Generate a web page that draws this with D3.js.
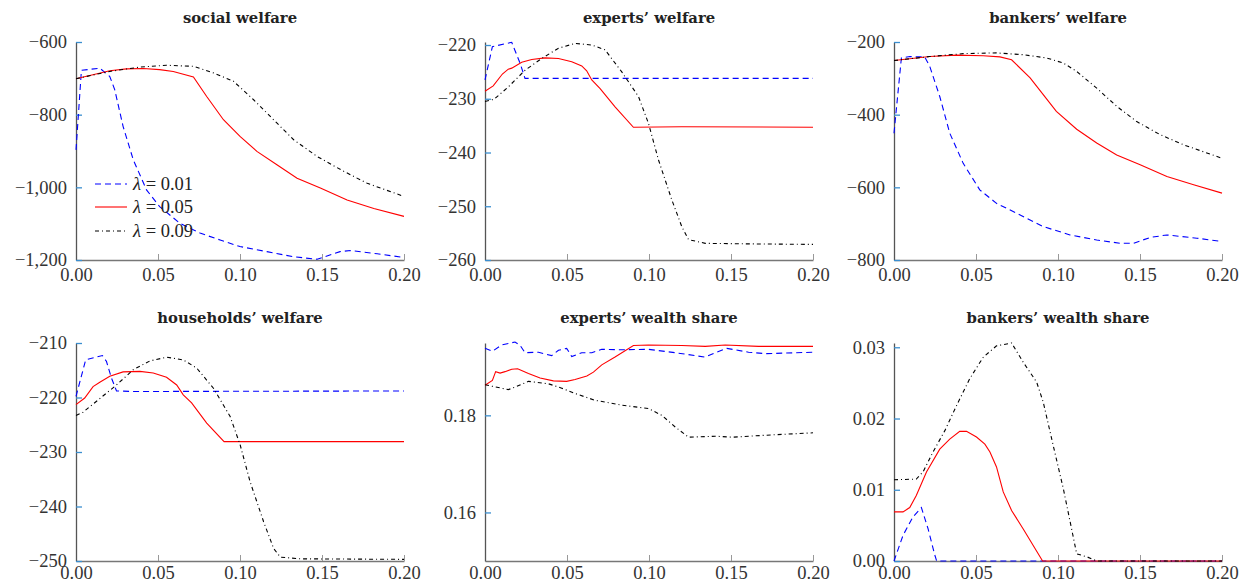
<!DOCTYPE html>
<html><head><meta charset="utf-8">
<script src="https://cdn.jsdelivr.net/npm/d3@7"></script>
<style>body{margin:0;background:#fff}svg{display:block}
.tk{font-family:"Liberation Serif","DejaVu Serif",serif;}
</style>
</head><body>
<svg id="chart" width="1245" height="583"></svg>
<script>
// ---- data ----
const lambdaLabels = ["0.01", "0.05", "0.09"];
const xTicks = [0, 0.05, 0.10, 0.15, 0.20];
const panelTitles = ["social welfare", "experts\u2019 welfare", "bankers\u2019 welfare",
  "households\u2019 welfare", "experts\u2019 wealth share", "bankers\u2019 wealth share"];
const yDomains = [[-1200, -600], [-260, -219.44], [-800, -200], [-250, -210], [0.15, 0.1949], [0, 0.0306]];
const yTickValues = [[-1200, -1000, -800, -600], [-260, -250, -240, -230, -220], [-800, -600, -400, -200],
  [-250, -240, -230, -220, -210], [0.16, 0.18], [0, 0.01, 0.02, 0.03]];

const socialL01 = [[0,-897],[0.0033,-678],[0.0145,-672],[0.0206,-695],[0.0236,-731],[0.0287,-832],[0.0349,-924],[0.043,-1007],[0.051,-1053],[0.0634,-1099],[0.0756,-1126],[0.0879,-1145],[0.1,-1163],[0.1164,-1177],[0.1327,-1191],[0.147,-1198],[0.161,-1177],[0.1674,-1174],[0.1837,-1183],[0.2,-1193]];
const socialL05 = [[0,-701],[0.0206,-679],[0.0308,-674],[0.041,-673],[0.051,-676],[0.0593,-681],[0.0716,-696],[0.0797,-750],[0.0899,-814],[0.1,-860],[0.1103,-901],[0.1225,-938],[0.1348,-975],[0.149,-1002],[0.1653,-1035],[0.1816,-1058],[0.2,-1080]];
const socialL09 = [[0,-701],[0.0206,-681],[0.039,-669],[0.0552,-664],[0.0716,-667],[0.0838,-685],[0.096,-708],[0.1083,-759],[0.1205,-814],[0.1327,-869],[0.147,-915],[0.1633,-956],[0.1776,-989],[0.2,-1025]];

const expertsL01 = [[0,-226.5],[0.0045,-220.3],[0.0163,-219.5],[0.0214,-223.4],[0.0244,-226.2],[0.2,-226.2]];
const expertsL05 = [[0,-228.6],[0.005,-227.6],[0.0106,-225.4],[0.0142,-224.5],[0.0163,-224.3],[0.0224,-223.2],[0.0285,-222.7],[0.0366,-222.4],[0.0448,-222.5],[0.0529,-223.1],[0.059,-223.9],[0.062,-224.8],[0.0651,-226.5],[0.0702,-228.1],[0.0793,-231.5],[0.0905,-235.3],[0.12,-235.2],[0.2,-235.3]];
const expertsL09 = [[0,-230.5],[0.0055,-230.1],[0.0142,-227.8],[0.0244,-224.7],[0.0346,-222.5],[0.0448,-220.6],[0.0549,-219.7],[0.0651,-220],[0.0732,-220.9],[0.0834,-225],[0.0936,-229.6],[0.0997,-234.6],[0.1058,-241.4],[0.1139,-248.8],[0.12,-253.8],[0.1241,-256.2],[0.1343,-256.9],[0.1607,-257],[0.2,-257.1]];

const bankersL01 = [[0,-451],[0.0045,-244],[0.0096,-240],[0.0187,-241],[0.0218,-267],[0.0279,-350],[0.034,-451],[0.0422,-534],[0.0523,-607],[0.0625,-644],[0.0747,-671],[0.091,-708],[0.1073,-731],[0.1236,-745],[0.1379,-754],[0.146,-754],[0.1562,-738],[0.1664,-731],[0.1847,-740],[0.2,-749]];
const bankersL05 = [[0,-251],[0.0218,-240],[0.0381,-236],[0.0544,-238],[0.0646,-241],[0.0717,-249],[0.083,-299],[0.091,-345],[0.099,-391],[0.1114,-440],[0.1236,-478],[0.1358,-511],[0.1501,-538],[0.1664,-570],[0.1827,-593],[0.2,-616]];
const bankersL09 = [[0,-251],[0.0218,-240],[0.0422,-232],[0.0625,-230],[0.0788,-235],[0.0931,-244],[0.1033,-258],[0.1114,-281],[0.1236,-327],[0.1358,-377],[0.148,-419],[0.1623,-455],[0.1766,-483],[0.2,-520]];

const householdsL01 = [[0,-219.8],[0.0059,-213.1],[0.0161,-212.3],[0.0186,-213.4],[0.0216,-216.4],[0.0247,-218.8],[0.0349,-218.9],[0.2,-218.8]];
const householdsL05 = [[0,-221.3],[0.0053,-220.1],[0.0104,-218],[0.0145,-217.2],[0.0206,-216.1],[0.0287,-215.3],[0.039,-215.2],[0.0471,-215.5],[0.0552,-216.3],[0.0614,-217.7],[0.0654,-219.5],[0.0705,-221],[0.0797,-224.7],[0.0903,-228.1],[0.2,-228.1]];
const householdsL09 = [[0,-223.3],[0.0043,-222.7],[0.0145,-220.2],[0.0247,-217.7],[0.0349,-214.9],[0.045,-213.3],[0.0552,-212.6],[0.0654,-213.1],[0.0736,-214.6],[0.0838,-218.3],[0.094,-223.5],[0.1001,-228.7],[0.1062,-235.5],[0.1144,-242.8],[0.1205,-247.7],[0.1246,-249.3],[0.1368,-249.6],[0.2,-249.7]];

const expShareL01 = [[0,0.1938],[0.0045,0.1932],[0.0102,0.1945],[0.0183,0.1951],[0.0214,0.1944],[0.0244,0.1929],[0.0326,0.193],[0.0407,0.1923],[0.0448,0.1934],[0.0498,0.1938],[0.0529,0.1921],[0.059,0.1929],[0.0651,0.1929],[0.0712,0.1936],[0.0834,0.1935],[0.0997,0.1936],[0.116,0.1929],[0.1343,0.192],[0.1404,0.1929],[0.1475,0.1938],[0.1607,0.193],[0.1709,0.1927],[0.2,0.193]];
const expShareL05 = [[0,0.1862],[0.0045,0.1872],[0.0065,0.189],[0.0092,0.1887],[0.0122,0.189],[0.0163,0.1895],[0.0199,0.1896],[0.0265,0.1886],[0.0336,0.1877],[0.0417,0.1871],[0.0498,0.187],[0.0549,0.1874],[0.0621,0.1881],[0.0661,0.1889],[0.0712,0.1904],[0.0793,0.192],[0.0905,0.1944],[0.0997,0.1945],[0.12,0.1944],[0.1343,0.1942],[0.1465,0.1945],[0.1668,0.1942],[0.2,0.1942]];
const expShareL09 = [[0,0.1863],[0.0142,0.1853],[0.0183,0.1858],[0.0265,0.187],[0.0387,0.1865],[0.0468,0.1856],[0.0549,0.1845],[0.0671,0.1831],[0.0834,0.1821],[0.0997,0.1814],[0.1078,0.18],[0.116,0.1776],[0.1241,0.1755],[0.1404,0.1757],[0.1506,0.1755],[0.1709,0.1759],[0.2,0.1764]];

const bankShareL01 = [[0,0],[0.0055,0.0036],[0.0116,0.0062],[0.0167,0.0075],[0.0208,0.0045],[0.0248,0.0009],[0.026,0],[0.2,0]];
const bankShareL05 = [[0,0.0069],[0.0055,0.0069],[0.0096,0.0075],[0.0136,0.0092],[0.0198,0.0125],[0.0279,0.0157],[0.034,0.0171],[0.0401,0.0182],[0.0442,0.0182],[0.0503,0.0174],[0.0554,0.0164],[0.0585,0.0153],[0.0625,0.0132],[0.0666,0.0097],[0.0717,0.0071],[0.0788,0.0045],[0.0906,0],[0.2,0]];
const bankShareL09 = [[0,0.0114],[0.0136,0.0115],[0.0177,0.0125],[0.0238,0.0153],[0.031,0.0183],[0.0381,0.0218],[0.0462,0.0256],[0.0544,0.0286],[0.0625,0.0302],[0.0717,0.0306],[0.0788,0.0279],[0.087,0.0251],[0.091,0.0223],[0.0971,0.0162],[0.1033,0.0101],[0.1083,0.0045],[0.1114,0.001],[0.1175,0.0006],[0.1236,0],[0.2,0]];

const panelSeries = [
  [socialL01, socialL05, socialL09],
  [expertsL01, expertsL05, expertsL09],
  [bankersL01, bankersL05, bankersL09],
  [householdsL01, householdsL05, householdsL09],
  [expShareL01, expShareL05, expShareL09],
  [bankShareL01, bankShareL05, bankShareL09]
];

// ---- layout / style ----
const colLeft = [76, 485, 894];
const plotW = 328;
const rowTop = [42, 343];
const plotH = 218;
const seriesStyle = [
  {color: "#0000ff", dash: "6,4"},
  {color: "#ff0000", dash: null},
  {color: "#000000", dash: "4,3,1,3"}
];
const yFormats = [",", ",", ",", ",", ".2f", ".2f"];

const svg = d3.select("#chart");
const tickFont = "Liberation Serif";
const tickSize = 18.5;

panelTitles.forEach((title, i) => {
  const col = i % 3, row = Math.floor(i / 3);
  const left = colLeft[col], top = rowTop[row];
  const x = d3.scaleLinear().domain([0, 0.2]).range([left, left + plotW]);
  const y = d3.scaleLinear().domain(yDomains[i]).range([top + plotH, top]);
  const g = svg.append("g");

  // title
  g.append("text")
    .attr("x", left + plotW / 2).attr("y", row === 0 ? 23 : 323)
    .attr("text-anchor", "middle")
    .attr("font-family", "DejaVu Serif").attr("font-weight", "bold")
    .attr("font-size", 14.8).attr("fill", "#222")
    .text(title);

  // x axis
  const xa = g.append("g").attr("transform", `translate(0,${top + plotH})`)
    .call(d3.axisBottom(x).tickValues(xTicks).tickFormat(d3.format(".2f")).tickSizeInner(-6).tickSizeOuter(0).tickPadding(8))
    .attr("font-family", tickFont).attr("font-size", tickSize);
  xa.select(".domain").attr("stroke", "#777").attr("stroke-width", 1.3);
  xa.selectAll(".tick line").attr("stroke", "#999");
  xa.selectAll(".tick text").attr("class", "tk").attr("fill", "#333")
    .attr("y", row === 0 ? 8 : 5).attr("dy", "0.71em");

  // y axis
  const ya = g.append("g").attr("transform", `translate(${left},0)`)
    .call(d3.axisLeft(y).tickValues(yTickValues[i]).tickFormat(d3.format(yFormats[i])).tickSizeInner(-6).tickSizeOuter(0).tickPadding(9))
    .attr("font-family", tickFont).attr("font-size", tickSize);
  ya.select(".domain").attr("stroke", "#555").attr("stroke-width", 1.3);
  ya.selectAll(".tick line").attr("stroke", "#3b8fd0").attr("stroke-width", 1.3);
  ya.selectAll(".tick text").attr("class", "tk").attr("fill", "#333");

  // lines
  const line = d3.line().x(d => x(d[0])).y(d => y(d[1]));
  panelSeries[i].forEach((s, k) => {
    g.append("path").datum(s)
      .attr("d", line)
      .attr("fill", "none")
      .attr("stroke", seriesStyle[k].color)
      .attr("stroke-width", 1.1)
      .attr("stroke-dasharray", seriesStyle[k].dash);
  });

  // legend in first panel
  if (i === 0) {
    const ly = [184, 207, 231];
    lambdaLabels.forEach((lab, k) => {
      g.append("line").attr("x1", 95).attr("x2", 127).attr("y1", ly[k]).attr("y2", ly[k])
        .attr("stroke", seriesStyle[k].color).attr("stroke-width", 1.1)
        .attr("stroke-dasharray", seriesStyle[k].dash);
      const t = g.append("text").attr("x", 133).attr("y", ly[k]).attr("dy", "0.35em")
        .attr("class", "tk").attr("font-family", tickFont).attr("font-size", tickSize).attr("fill", "#222");
      t.append("tspan").attr("font-style", "italic").text("\u03bb");
      t.append("tspan").text(" = " + lab);
    });
  }
});
</script>
</body></html>
